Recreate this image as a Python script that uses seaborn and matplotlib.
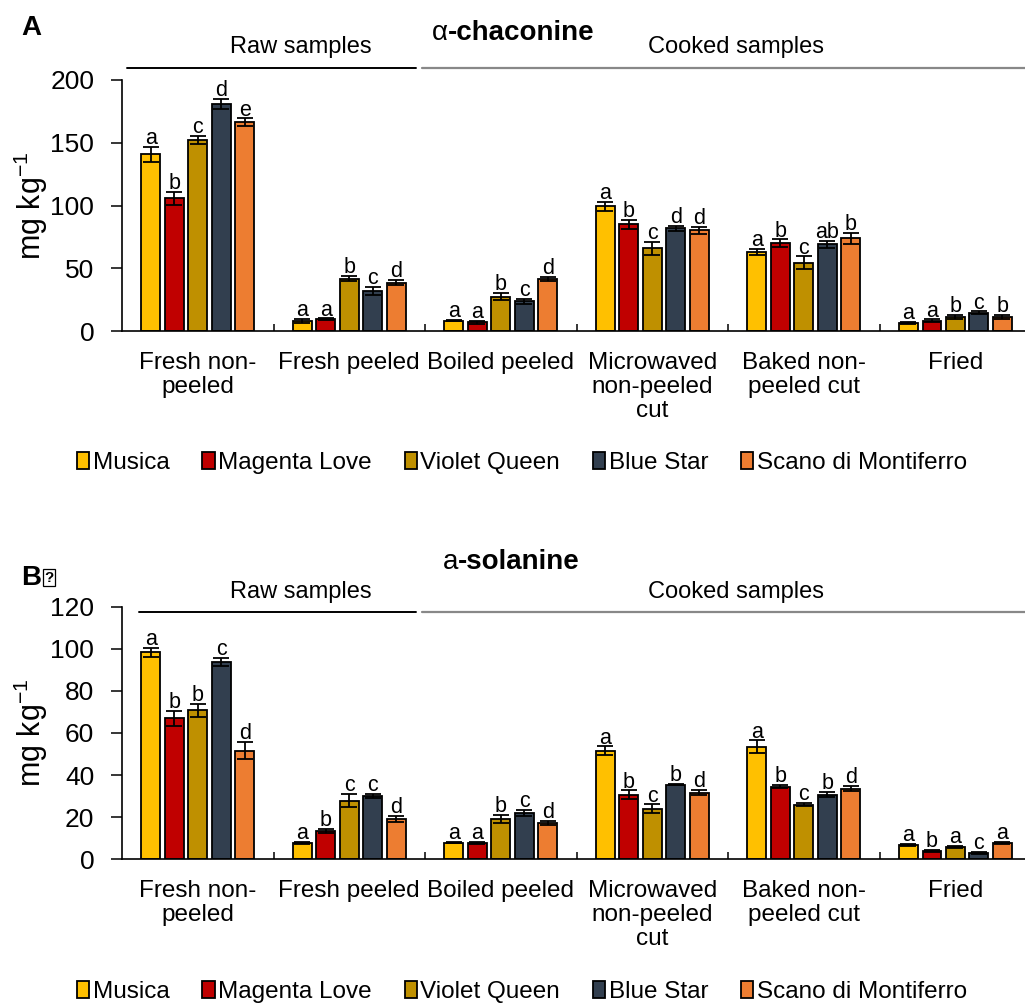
import numpy as np
import pandas as pd
import seaborn as sns
import matplotlib.pyplot as plt
from matplotlib.ticker import FixedLocator

#
# DATA
#

varieties = ["Musica", "Magenta Love", "Violet Queen", "Blue Star", "Scano di Montiferro"]
colors = ["#FFC000", "#C00000", "#BF9000", "#323F4F", "#ED7D31"]
treatments = ["Fresh non-\npeeled", "Fresh peeled", "Boiled peeled",
              "Microwaved\nnon-peeled\ncut", "Baked non-\npeeled cut", "Fried"]

# alpha-chaconine, one row per variety, one value per treatment
chaconine = [
    [141, 8.2, 8.2, 99.3, 62.7, 6.6],
    [105.7, 9.6, 6.9, 85.0, 70.1, 8.2],
    [152.2, 41.7, 27.4, 65.9, 54.4, 11.4],
    [180.9, 32.1, 23.9, 81.8, 69.0, 14.6],
    [166.5, 38.5, 41.7, 80.2, 73.8, 11.4],
]
chaconine_err = [
    [6, 1.5, 0.5, 3.5, 2.5, 1],
    [5, 0.5, 1, 3.5, 3, 1],
    [3, 2, 3, 5, 5, 1.5],
    [4, 3, 2, 2, 3, 1],
    [3, 2, 1.5, 2.5, 4.5, 1.5],
]
chaconine_letters = [
    ["a", "a", "a", "a", "a", "a"],
    ["b", "a", "a", "b", "b", "a"],
    ["c", "b", "b", "c", "c", "b"],
    ["d", "c", "c", "d", "ab", "c"],
    ["e", "d", "d", "d", "b", "b"],
]

# alpha-solanine
solanine = [
    [98.3, 7.9, 7.9, 51.6, 53.5, 6.8],
    [67.0, 13.6, 7.9, 30.7, 34.5, 4.0],
    [70.8, 27.9, 19.2, 24.1, 26.0, 5.9],
    [93.6, 29.9, 22.0, 35.5, 30.7, 3.0],
    [51.6, 19.2, 17.1, 31.7, 33.6, 7.8],
]
solanine_err = [
    [2, 0.5, 0.2, 2, 3, 0.5],
    [3.5, 1, 0.5, 2, 0.7, 0.5],
    [3, 3, 2, 2, 0.8, 0.5],
    [2, 1, 1.5, 0.3, 1.3, 0.5],
    [4, 1.5, 1, 1.3, 1.3, 0.5],
]
solanine_letters = [
    ["a", "a", "a", "a", "a", "a"],
    ["b", "b", "a", "b", "b", "b"],
    ["b", "c", "b", "c", "c", "a"],
    ["c", "c", "c", "b", "b", "c"],
    ["d", "d", "d", "d", "d", "a"],
]

#
# STYLE
#

sns.set_style("white")
plt.rcParams["font.family"] = ["Liberation Sans", "DejaVu Sans"]
plt.rcParams["mathtext.default"] = "regular"
for key in ["text.color", "axes.labelcolor", "xtick.color", "ytick.color"]:
    plt.rcParams[key] = "black"


def long_table(values):
    rows = []
    for v, var in enumerate(varieties):
        for t, trt in enumerate(treatments):
            rows.append({"treatment": trt, "variety": var, "value": values[v][t]})
    return pd.DataFrame(rows)


def panel(ax, values, errs, letters, ymax, yticks, raw_x0, line_y, head_y):
    df = long_table(values)
    sns.barplot(data=df, x="treatment", y="value", hue="variety",
                order=treatments, hue_order=varieties, palette=colors,
                saturation=1, width=0.775, gap=0.2, edgecolor="black",
                linewidth=1.3, errorbar=None, ax=ax)

    bar_groups = list(ax.containers)
    for v, cont in enumerate(bar_groups):
        for t, bar in enumerate(cont):
            x = bar.get_x() + bar.get_width() / 2
            h = bar.get_height()
            e = errs[v][t]
            ax.errorbar(x, h, yerr=e, color="black", elinewidth=1.3,
                        capsize=6, capthick=1.3, zorder=5)
            ax.annotate(letters[v][t], (x, h + e), xytext=(0, 2),
                        textcoords="offset points", ha="center",
                        va="baseline", fontsize=15.5)

    ax.set_xlim(-0.5, 5.5)
    ax.set_ylim(0, ymax)
    ax.set_yticks(yticks)
    ax.set_xlabel("")
    ax.set_ylabel("mg kg$^{-1}$", fontsize=22, labelpad=0)
    ax.tick_params(axis="y", labelsize=19, direction="out", length=8,
                   width=1.1, pad=12, left=True)
    ax.tick_params(axis="x", which="major", length=0, labelsize=17.5, pad=15)
    ax.xaxis.set_minor_locator(FixedLocator(np.arange(0.5, 5, 1)))
    ax.tick_params(axis="x", which="minor", direction="in", length=5,
                   width=1.1, bottom=True)
    for lbl in ax.get_xticklabels():
        lbl.set_linespacing(1.12)
    for side in ["top", "right"]:
        ax.spines[side].set_visible(False)
    for side in ["left", "bottom"]:
        ax.spines[side].set_color("black")
        ax.spines[side].set_linewidth(1.2)

    # raw / cooked headers
    tr = ax.get_xaxis_transform()
    ax.plot([raw_x0, 1.44], [line_y, line_y], color="black", lw=1.4,
            transform=tr, clip_on=False)
    ax.plot([1.48, 5.6], [line_y, line_y], color="#888888", lw=1.6,
            transform=tr, clip_on=False)
    ax.text(0.68, head_y, "Raw samples", transform=tr, ha="center",
            va="center", fontsize=17)
    ax.text(3.55, head_y, "Cooked samples", transform=tr, ha="center",
            va="center", fontsize=17)

    handles, labels = ax.get_legend_handles_labels()
    ax.legend(handles[:5], labels[:5], ncol=5, loc="center",
              bbox_to_anchor=(0.44, -0.525), frameon=False,
              handlelength=0.5, handleheight=0.7, handletextpad=0.15,
              columnspacing=1.35, prop={"size": 17.5})


#
# MAIN
#

fig = plt.figure(figsize=(10.25, 10.05), dpi=100)
ax1 = fig.add_axes([0.119, 0.6706, 0.887, 0.2498])
ax2 = fig.add_axes([0.119, 0.145, 0.887, 0.2513])

panel(ax1, chaconine, chaconine_err, chaconine_letters, 200,
      [0, 50, 100, 150, 200], -0.47, 1.048, 1.13)
panel(ax2, solanine, solanine_err, solanine_letters, 120,
      [0, 20, 40, 60, 80, 100, 120], -0.39, 0.98, 1.06)

# titles: alpha in regular weight, name in bold
fig.text(0.437, 0.967, "\u03b1", ha="right", va="center", fontsize=20)
fig.text(0.437, 0.967, "-chaconine", ha="left", va="center",
         fontsize=20, fontweight="bold")
fig.text(0.447, 0.441, "a", ha="right", va="center", fontsize=20)
fig.text(0.447, 0.441, "-solanine", ha="left", va="center",
         fontsize=20, fontweight="bold")

fig.text(0.021, 0.972, "A", ha="left", va="center", fontsize=20,
         fontweight="bold")
fig.text(0.021, 0.425, "B", ha="left", va="center", fontsize=20,
         fontweight="bold")
fig.text(0.043, 0.425, "?", ha="left", va="center", fontsize=11,
         fontweight="bold",
         bbox=dict(boxstyle="square,pad=0.1", fc="white", ec="black", lw=0.9))

fig.savefig("out.png", dpi=100)
